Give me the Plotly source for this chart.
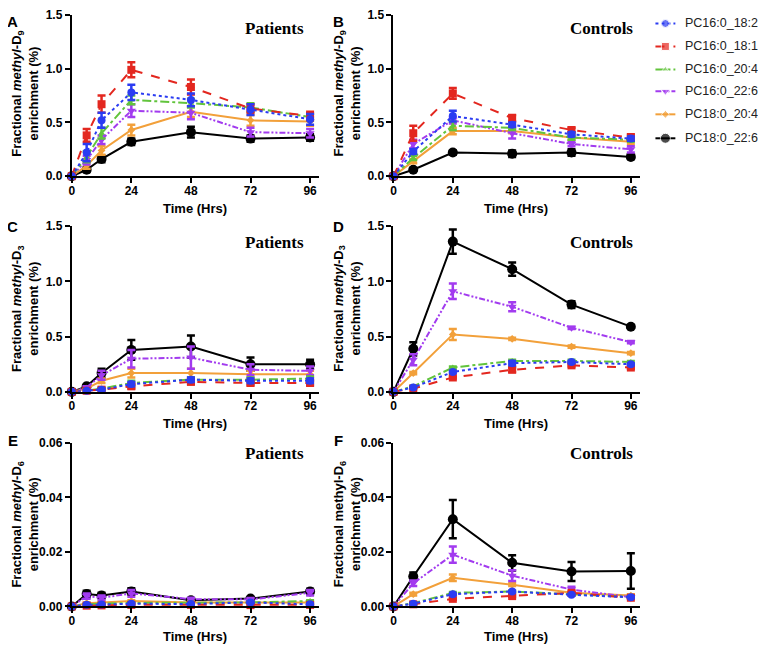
import plotly.graph_objects as go

# time points
hrs_pat = [0, 6, 12, 24, 48, 72, 96]
hrs_ctl = [0, 8, 24, 48, 72, 96]

names = ['PC16:0_18:2', 'PC16:0_18:1', 'PC16:0_20:4', 'PC16:0_22:6', 'PC18:0_20:4', 'PC18:0_22:6']

# methyl-D9 enrichment (%), order as names
d9_pat = [[0, 0.22, 0.52, 0.78, 0.71, 0.62, 0.53],
          [0, 0.38, 0.67, 0.99, 0.83, 0.63, 0.56],
          [0, 0.18, 0.40, 0.71, 0.68, 0.64, 0.55],
          [0, 0.15, 0.34, 0.61, 0.59, 0.41, 0.40],
          [0, 0.10, 0.24, 0.43, 0.60, 0.52, 0.51],
          [0, 0.06, 0.16, 0.32, 0.41, 0.35, 0.36]]
d9_pat_sem = [[0, 0.08, 0.07, 0.07, 0.06, 0.05, 0.05],
              [0, 0.06, 0.08, 0.07, 0.07, 0.04, 0.04],
              [0, 0.05, 0.05, 0.04, 0.04, 0.04, 0.03],
              [0, 0.04, 0.04, 0.06, 0.06, 0.04, 0.04],
              [0, 0.03, 0.04, 0.05, 0.05, 0.05, 0.04],
              [0, 0.02, 0.03, 0.03, 0.05, 0.03, 0.03]]
d9_ctl = [[0, 0.23, 0.56, 0.48, 0.39, 0.35],
          [0, 0.40, 0.77, 0.54, 0.43, 0.36],
          [0, 0.17, 0.47, 0.45, 0.36, 0.34],
          [0, 0.30, 0.52, 0.40, 0.30, 0.25],
          [0, 0.14, 0.42, 0.42, 0.36, 0.32],
          [0, 0.06, 0.22, 0.21, 0.22, 0.18]]
d9_ctl_sem = [[0, 0.02, 0.05, 0.02, 0.02, 0.02],
              [0, 0.07, 0.05, 0.03, 0.02, 0.03],
              [0, 0.02, 0.04, 0.02, 0.02, 0.02],
              [0, 0.04, 0.03, 0.05, 0.02, 0.03],
              [0, 0.02, 0.03, 0.02, 0.02, 0.02],
              [0, 0.01, 0.02, 0.03, 0.03, 0.02]]

# methyl-D3 enrichment (%)
d3_pat = [[0, 0.01, 0.02, 0.07, 0.11, 0.10, 0.10],
          [0, 0.01, 0.02, 0.05, 0.09, 0.08, 0.08],
          [0, 0.01, 0.03, 0.08, 0.11, 0.11, 0.12],
          [0, 0.04, 0.15, 0.30, 0.31, 0.20, 0.19],
          [0, 0.03, 0.10, 0.17, 0.17, 0.16, 0.16],
          [0, 0.05, 0.17, 0.38, 0.41, 0.25, 0.25]]
d3_pat_sem = [[0, 0.005, 0.01, 0.02, 0.02, 0.02, 0.02],
              [0, 0.005, 0.01, 0.02, 0.02, 0.02, 0.02],
              [0, 0.005, 0.01, 0.02, 0.02, 0.02, 0.02],
              [0, 0.01, 0.04, 0.08, 0.10, 0.05, 0.04],
              [0, 0.01, 0.02, 0.04, 0.04, 0.03, 0.03],
              [0, 0.01, 0.04, 0.09, 0.10, 0.06, 0.04]]
d3_ctl = [[0, 0.04, 0.18, 0.26, 0.27, 0.25],
          [0, 0.03, 0.13, 0.20, 0.24, 0.22],
          [0, 0.05, 0.22, 0.28, 0.28, 0.27],
          [0, 0.29, 0.91, 0.77, 0.58, 0.45],
          [0, 0.17, 0.52, 0.48, 0.41, 0.35],
          [0, 0.39, 1.36, 1.11, 0.79, 0.59]]
d3_ctl_sem = [[0, 0.005, 0.01, 0.02, 0.01, 0.01],
              [0, 0.005, 0.01, 0.02, 0.01, 0.01],
              [0, 0.005, 0.01, 0.01, 0.01, 0.01],
              [0, 0.05, 0.07, 0.04, 0.01, 0.01],
              [0, 0.01, 0.05, 0.01, 0.01, 0.01],
              [0, 0.06, 0.11, 0.06, 0.03, 0.01]]

# methyl-D6 enrichment (%)
d6_pat = [[0, 0.0006, 0.0007, 0.0010, 0.0009, 0.0015, 0.0008],
          [0, 0.0003, 0.0004, 0.0006, 0.0006, 0.0005, 0.0006],
          [0, 0.0008, 0.0010, 0.0013, 0.0014, 0.0015, 0.0020],
          [0, 0.0038, 0.0032, 0.0048, 0.0027, 0.0026, 0.0050],
          [0, 0.0012, 0.0015, 0.0020, 0.0015, 0.0015, 0.0015],
          [0, 0.0046, 0.0040, 0.0055, 0.0023, 0.0029, 0.0055]]
d6_pat_sem = [[0, 0.0003, 0.0003, 0.0003, 0.0003, 0.0003, 0.0003],
              [0, 0.0003, 0.0003, 0.0003, 0.0003, 0.0003, 0.0003],
              [0, 0.0003, 0.0003, 0.0003, 0.0003, 0.0003, 0.0003],
              [0, 0.0010, 0.0008, 0.0012, 0.0005, 0.0005, 0.0010],
              [0, 0.0003, 0.0003, 0.0003, 0.0003, 0.0003, 0.0003],
              [0, 0.0012, 0.0010, 0.0012, 0.0005, 0.0005, 0.0010]]
d6_ctl = [[0, 0.0010, 0.0045, 0.0055, 0.0043, 0.0034],
          [0, 0.0008, 0.0028, 0.0038, 0.0050, 0.0032],
          [0, 0.0012, 0.0050, 0.0055, 0.0045, 0.0035],
          [0, 0.0085, 0.0190, 0.0113, 0.0062, 0.0034],
          [0, 0.0045, 0.0105, 0.0080, 0.0050, 0.0040],
          [0, 0.0110, 0.0320, 0.0160, 0.0128, 0.0130]]
d6_ctl_sem = [[0, 0.0003, 0.0003, 0.0003, 0.0003, 0.0003],
              [0, 0.0003, 0.0003, 0.0003, 0.0003, 0.0003],
              [0, 0.0003, 0.0003, 0.0003, 0.0003, 0.0003],
              [0, 0.0010, 0.0030, 0.0020, 0.0010, 0.0005],
              [0, 0.0005, 0.0012, 0.0005, 0.0005, 0.0005],
              [0, 0.0015, 0.0070, 0.0028, 0.0035, 0.0065]]

colors = ['#2b3cf2', '#e3271f', '#62c43c', '#a23bef', '#f2a03a', '#000000']
dashes = ['dot', 'dash', 'dashdot', '6px,2px,2px,2px,2px,2px', 'solid', 'solid']
symbols = ['circle', 'square', 'triangle-up', 'triangle-down', 'diamond', 'circle']
msizes = [8, 8, 6, 8, 6, 10]

panels = [(hrs_pat, d9_pat, d9_pat_sem), (hrs_ctl, d9_ctl, d9_ctl_sem),
          (hrs_pat, d3_pat, d3_pat_sem), (hrs_ctl, d3_ctl, d3_ctl_sem),
          (hrs_pat, d6_pat, d6_pat_sem), (hrs_ctl, d6_ctl, d6_ctl_sem)]

# page offsets seen in the screenshot: x is shifted by the body margin,
# y is shifted and slightly squeezed
OFF = 8
OY, SY = 13.5, 0.98
W, H = 758, 646


def px(x):
    return (x - OFF) / W


def fy(y):
    return max((y - OY) / SY, 0)


def py(y):
    return 1 - fy(y) / H


fig = go.Figure()

# draw black first so blue ends up on top
for p, (hrs, means, sems) in enumerate(panels):
    ax = '' if p == 0 else str(p + 1)
    for i in reversed(range(6)):
        fig.add_trace(go.Scatter(
            x=hrs, y=means[i], name=names[i],
            xaxis='x' + ax, yaxis='y' + ax,
            mode='lines+markers',
            line=dict(color=colors[i], dash=dashes[i], width=2),
            marker=dict(symbol=symbols[i], size=msizes[i], color=colors[i]),
            error_y=dict(type='data', array=sems[i], color=colors[i], thickness=2.5, width=4),
            cliponaxis=False, showlegend=False))

# legend drawn by hand on a pixel overlay axis (x7/y7)
leg_y = [22, 45, 68, 90, 113, 137]
for i in range(6):
    fig.add_trace(go.Scatter(
        x=[655, 665, 675], y=[fy(leg_y[i])] * 3, xaxis='x7', yaxis='y7',
        mode='lines+markers', hoverinfo='skip', showlegend=False,
        line=dict(color=colors[i], dash=dashes[i], width=2),
        marker=dict(symbol=symbols[i], size=[0, msizes[i], 0], color=colors[i])))

left_x = [px(69), px(317)]
right_x = [px(392), px(639)]
rows = [[py(175), py(10)], [py(391), py(225)], [py(606), py(442)]]

axis_font = dict(family='Arial, Liberation Sans', size=12, color='black')
layout = {}
for p in range(6):
    ax = '' if p == 0 else str(p + 1)
    row = p // 2
    layout['xaxis' + ax] = dict(
        domain=left_x if p % 2 == 0 else right_x, anchor='y' + ax,
        range=[0, 99.5], tickvals=[0, 24, 48, 72, 96],
        showline=True, linecolor='black', linewidth=2, showgrid=False, zeroline=False,
        ticks='outside', ticklen=5, tickwidth=2, tickcolor='black',
        ticklabelstandoff=-3,
        tickfont=dict(axis_font, weight='bold'))
    if row < 2:
        yr, dt, fmt = [0, 1.5], 0.5, '.1f'
    else:
        yr, dt, fmt = [0, 0.06], 0.02, '.2f'
    layout['yaxis' + ax] = dict(
        domain=rows[row], anchor='x' + ax, range=yr, dtick=dt, tickformat=fmt,
        showline=True, linecolor='black', linewidth=2, showgrid=False, zeroline=False,
        ticks='outside', ticklen=5, tickwidth=2, tickcolor='black',
        tickfont=dict(axis_font, weight='bold'))

layout['xaxis7'] = dict(domain=[0, 1], range=[OFF, OFF + W], visible=False, anchor='y7')
layout['yaxis7'] = dict(domain=[0, 1], range=[H, 0], visible=False, anchor='x7')
fig.update_layout(**layout)

annots = []
ytitles = ['Fractional <i>methyl</i>-D<sub>9</sub><br>enrichment (%)',
           'Fractional <i>methyl</i>-D<sub>9</sub><br>enrichment (%)',
           'Fractional <i>methyl</i>-D<sub>3</sub><br>enrichment (%)',
           'Fractional <i>methyl</i>-D<sub>3</sub><br>enrichment (%)',
           'Fractional <i>methyl</i>-D<sub>6</sub><br>enrichment (%)',
           'Fractional methyl-D<sub>6</sub><br>enrichment (%)']
letters = ['A', 'B', 'C', 'D', 'E', 'F']
row_mid = [92.5, 308, 524]
row_top = [20, 225, 440]
group_lbl = [27, 241, 453]
xtitle_y = [207, 423, 636]
for p in range(6):
    row = p // 2
    right = p % 2 == 1
    annots.append(dict(text='<b>' + ytitles[p] + '</b>', xref='paper', yref='paper',
                       x=px(345 if right else 22), y=py(row_mid[row]),
                       textangle=-90, showarrow=False, xanchor='center', yanchor='middle',
                       font=dict(family='Arial, Liberation Sans', size=13, color='black')))
    annots.append(dict(text='<b>Time (Hrs)</b>', xref='paper', yref='paper',
                       x=px(515 if right else 193), y=py(xtitle_y[row]),
                       showarrow=False, xanchor='center', yanchor='middle',
                       font=dict(family='Arial, Liberation Sans', size=13, color='black')))
    annots.append(dict(text='<b>' + letters[p] + '</b>', xref='paper', yref='paper',
                       x=px(337 if right else 10), y=py(row_top[row]),
                       showarrow=False, xanchor='center', yanchor='middle',
                       font=dict(family='Arial, Liberation Sans', size=15, color='black')))
    annots.append(dict(text='<b>' + ('Controls' if right else 'Patients') + '</b>',
                       xref='paper', yref='paper',
                       x=px(634 if right else 304), y=py(group_lbl[row]),
                       showarrow=False, xanchor='right', yanchor='middle',
                       font=dict(family='Liberation Serif, Times New Roman', size=17, color='black')))
for i in range(6):
    annots.append(dict(text=names[i], xref='paper', yref='paper',
                       x=px(683), y=py(leg_y[i]), showarrow=False,
                       xanchor='left', yanchor='middle',
                       font=dict(family='Arial, Liberation Sans', size=12.5, color='#222')))

fig.update_layout(
    width=W, height=H,
    margin=dict(l=0, r=0, t=0, b=0),
    plot_bgcolor='rgba(0,0,0,0)', paper_bgcolor='white',
    annotations=annots,
    showlegend=False,
)

fig.write_html("out.html")
